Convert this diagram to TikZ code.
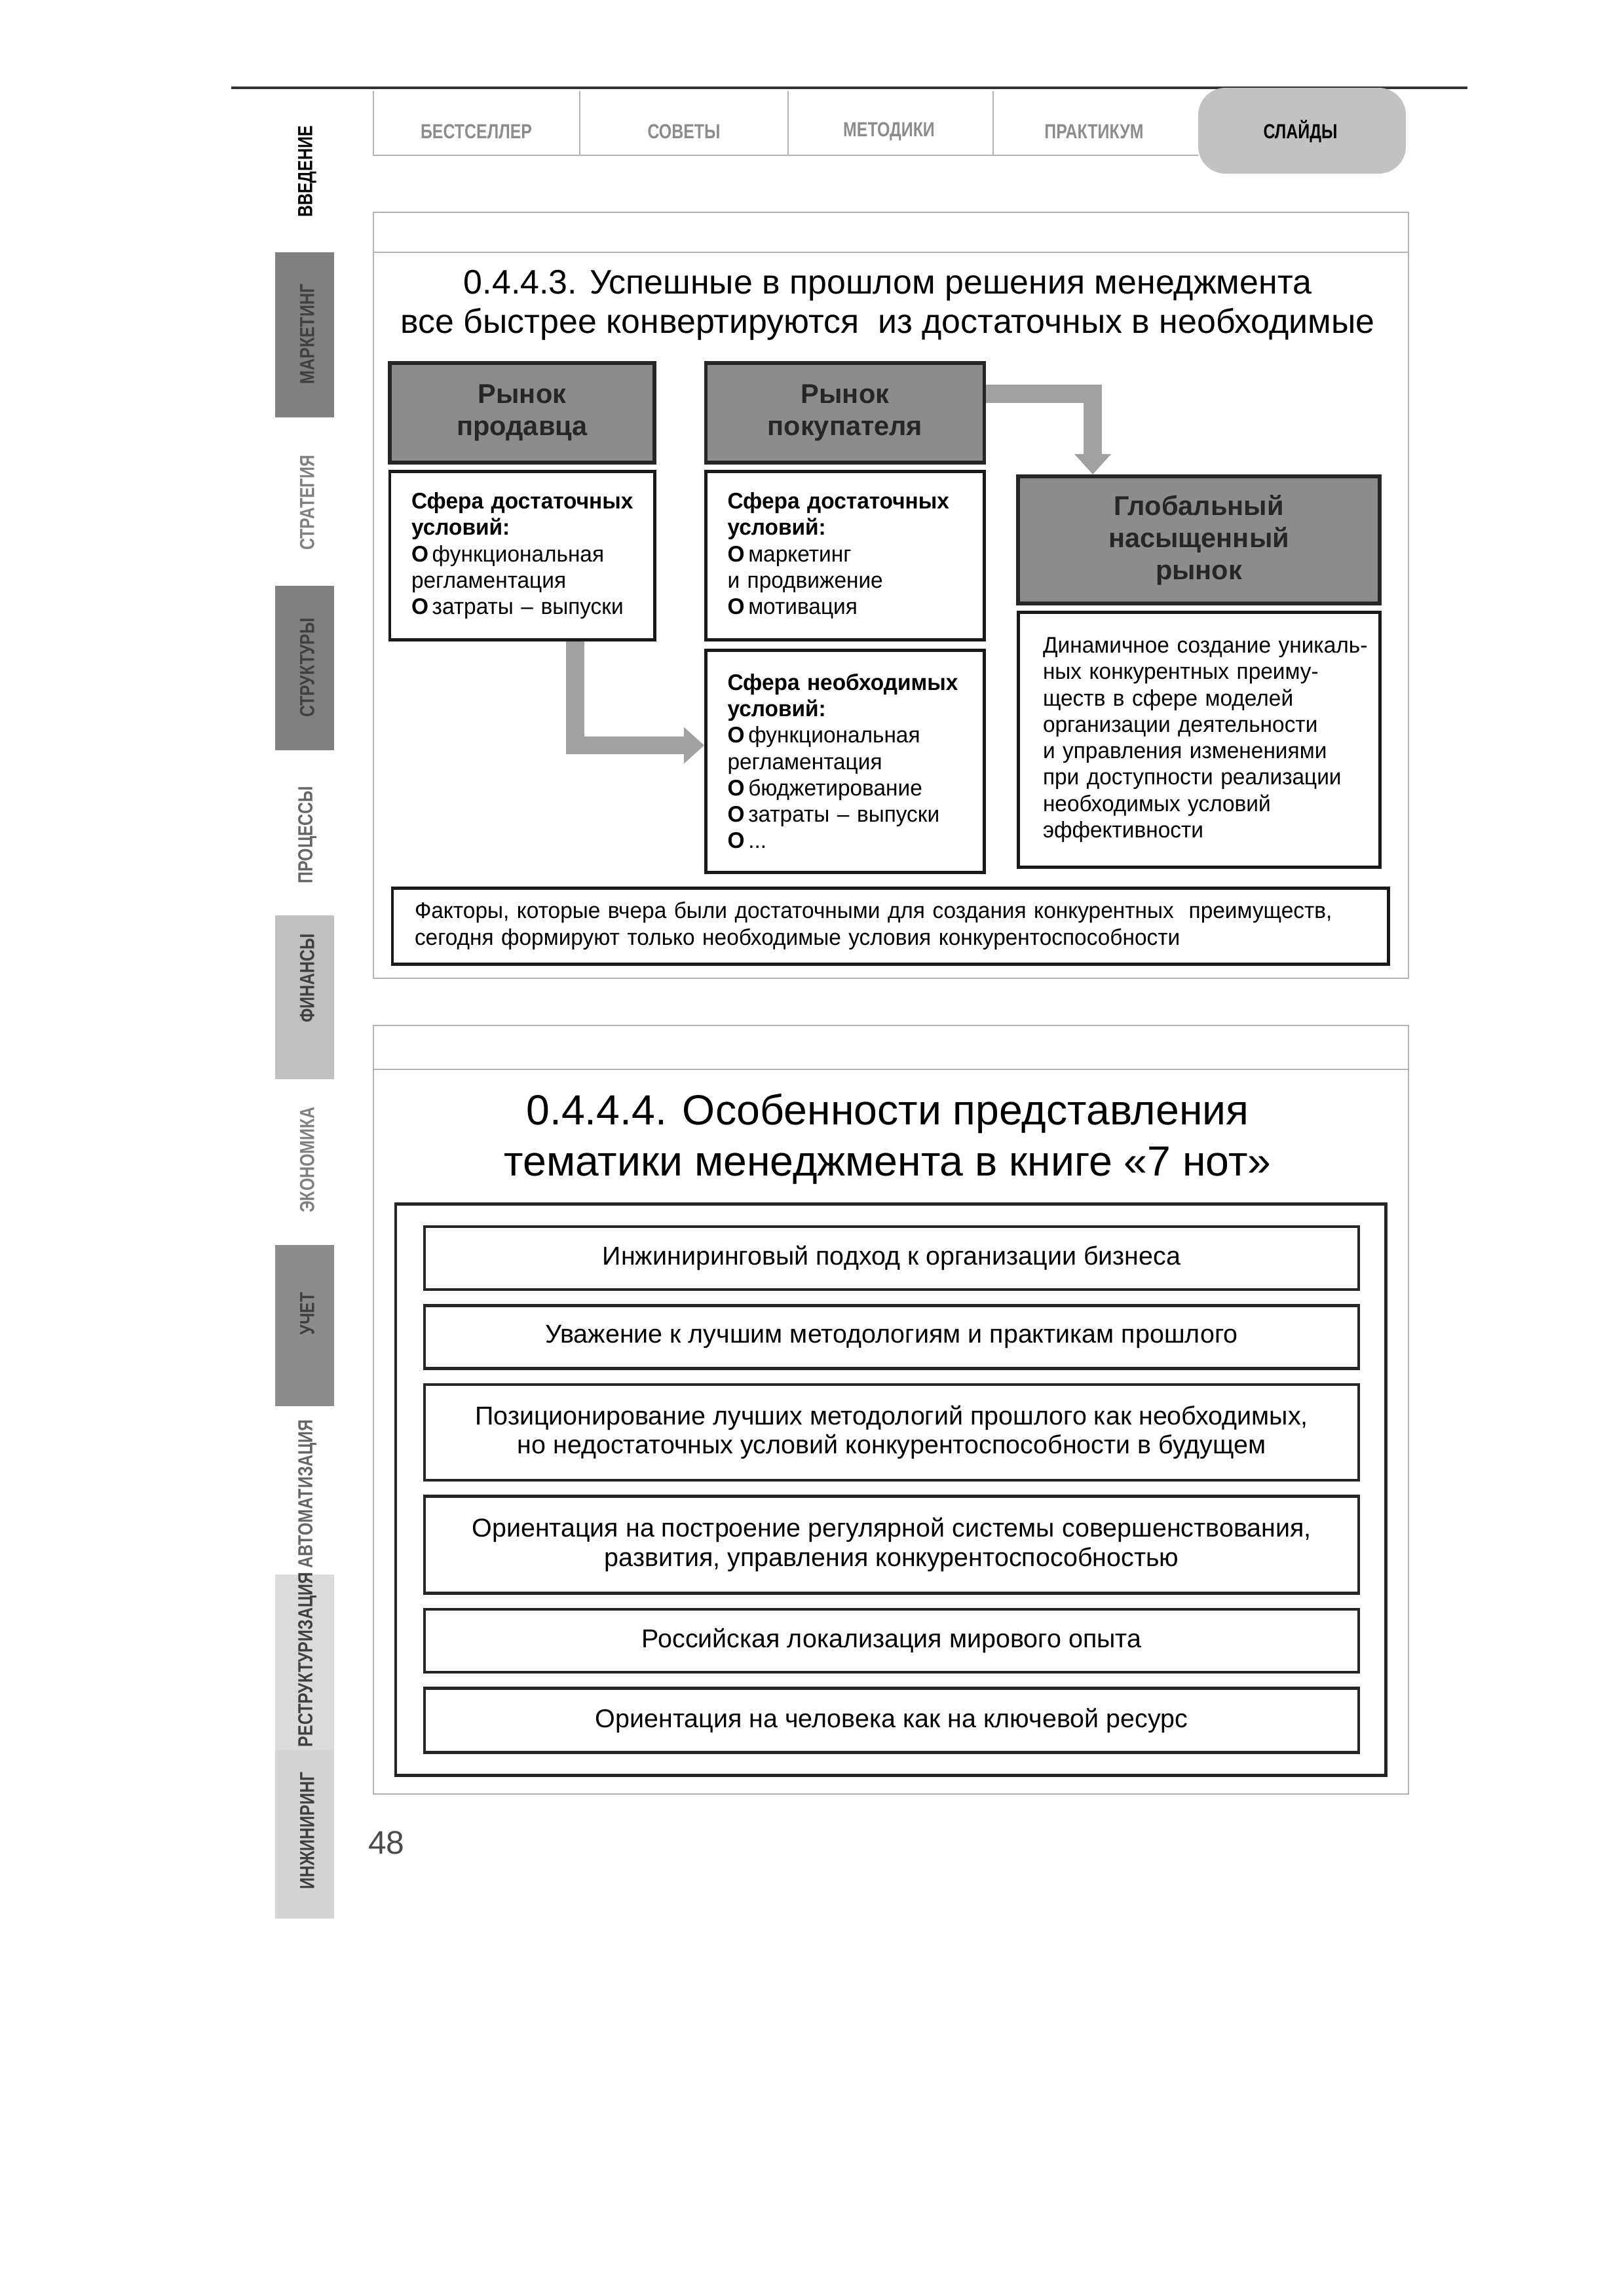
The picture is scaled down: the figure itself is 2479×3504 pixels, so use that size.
\documentclass[tikz,border=0pt]{standalone}
\usepackage{fontspec}
\setmainfont{Liberation Sans}
\newfontfamily\tabfont[FakeStretch=0.8]{Liberation Sans}
\newfontfamily\bodyfont[FakeStretch=0.97]{Liberation Sans}
\usetikzlibrary{arrows.meta,positioning}

\def\pxu{0.2409pt}
\newcommand\bul{\textbf{O}\,}

\begin{document}
\begin{tikzpicture}[x=0.2409pt,y=-0.2409pt,
  frame/.style={draw=black!30,line width=0.5pt},
  toptab/.style={font=\tabfont\bfseries\fontsize{7.5}{9}\selectfont,text=black!45},
  sidetab/.style={font=\tabfont\bfseries\fontsize{7.5}{9}\selectfont,rotate=90,text=black!75},
  title/.style={align=center,font=\fontsize{12.5}{14.5}\selectfont},
  hdr/.style={draw=black!85,line width=1.4pt,fill=black!45,align=center,
    font=\bfseries\fontsize{10}{11.8}\selectfont,text=black!85,inner sep=0pt},
  body/.style={draw=black!90,line width=1.2pt,fill=white,align=left,
    font=\bodyfont\fontsize{8.3}{9.7}\selectfont,inner sep=0pt},
  item/.style={draw=black!85,line width=1.1pt,minimum width=1426*\pxu,
    align=center,font=\fontsize{9.5}{10.8}\selectfont},
  blockarr/.style={draw=black!37,line width=6.7pt,
    -{Triangle[width=13pt,length=7.5pt]}}
]
\useasboundingbox (0,0) rectangle (2479,3504);

% header tabs
\draw[black!80,line width=1pt] (353,134) -- (2240,134);
\fill[black!24,rounded corners=10] (1829,134) rectangle (2146,265);
\draw[frame] (570,139) -- (570,237) -- (1829,237);
\draw[frame] (885,139) -- (885,237);
\draw[frame] (1203,139) -- (1203,237);
\draw[frame] (1516,139) -- (1516,237);
\node[toptab] (tbest) at (727,201) {БЕСТСЕЛЛЕР};
\node[toptab] (tsov) at (1044,201) {СОВЕТЫ};
\node[toptab] (tmet) at (1357,201) {МЕТОДИКИ};
\node[toptab] (tprak) at (1670,201) {ПРАКТИКУМ};
\node[toptab,text=black] (tslide) at (1985,201) {СЛАЙДЫ};

% side tabs
\fill[black!50] (420,385) rectangle (510,637);
\fill[black!50] (420,894) rectangle (510,1145);
\fill[black!25] (420,1397) rectangle (510,1647);
\fill[black!45] (420,1900) rectangle (510,2146);
\fill[black!14] (420,2403) rectangle (510,2671);
\fill[black!17] (420,2671) rectangle (510,2928);
\node[sidetab,text=black] (svved) at (469,262) {ВВЕДЕНИЕ};
\node[sidetab] (smark) at (469,510) {МАРКЕТИНГ};
\node[sidetab,text=black!50] (sstrat) at (469,767) {СТРАТЕГИЯ};
\node[sidetab] (sstruk) at (469,1019) {СТРУКТУРЫ};
\node[sidetab,text=black!60] (sproc) at (469,1274) {ПРОЦЕССЫ};
\node[sidetab] (sfin) at (469,1493) {ФИНАНСЫ};
\node[sidetab,text=black!50] (sekon) at (469,1770) {ЭКОНОМИКА};
\node[sidetab] (suchet) at (469,2005) {УЧЕТ};
\node[sidetab,text=black!60] (savto) at (469,2280) {АВТОМАТИЗАЦИЯ};
\node[sidetab] (srestr) at (469,2533) {РЕСТРУКТУРИЗАЦИЯ};
\node[sidetab] (sinzh) at (469,2794) {ИНЖИНИРИНГ};

% slide 0.4.4.3
\draw[frame] (570,324) rectangle (2150,1493);
\draw[frame] (570,385) -- (2150,385);
\node[title] (title1) at (1355,466)
  {0.4.4.3. Успешные в прошлом решения менеджмента\\
   все быстрее конвертируются \ из достаточных в необходимые};

\node[hdr,minimum width=404*\pxu,minimum height=152*\pxu] (hdrA) at (797,630)
  {Рынок\\продавца};
\node[hdr,minimum width=425*\pxu,minimum height=152*\pxu] (hdrB) at (1290,630)
  {Рынок\\покупателя};
\node[hdr,minimum width=552*\pxu,minimum height=194*\pxu] (hdrC) at (1830,824)
  {Глобальный\\насыщенный\\рынок};

\node[body,below=2pt of hdrA,minimum width=404*\pxu,minimum height=257*\pxu,
  text width=338*\pxu] (bodyA)
  {\textbf{Сфера~достаточных}\\\textbf{условий:}\\\bul функциональная\\
   регламентация\\\bul затраты~–~выпуски};
\node[body,below=2pt of hdrB,minimum width=425*\pxu,minimum height=257*\pxu,
  text width=359*\pxu] (bodyB1)
  {\textbf{Сфера~достаточных}\\\textbf{условий:}\\\bul маркетинг\\
   и продвижение\\\bul мотивация};
\node[body,below=2.5pt of bodyB1,minimum width=425*\pxu,minimum height=339*\pxu,
  text width=359*\pxu] (bodyB2)
  {\textbf{Сфера~необходимых}\\\textbf{условий:}\\\bul функциональная\\
   регламентация\\\bul бюджетирование\\\bul затраты~–~выпуски\\\bul ...};
\node[body,below=2pt of hdrC,minimum width=552*\pxu,minimum height=389*\pxu,
  text width=476*\pxu] (bodyC)
  {\mbox{Динамичное создание уникаль-}\\\mbox{ных конкурентных преиму-}\\
   ществ в сфере моделей\\организации~деятельности\\и~управления~изменениями\\
   при~доступности~реализации\\необходимых условий\\эффективности};

\draw[blockarr] ([yshift=7pt]hdrB.east) -| ([xshift=-39pt]hdrC.north);
\draw[blockarr] ([xshift=19.5pt]bodyA.south) |- ([yshift=5.8pt]bodyB2.west);

\node[body,minimum width=1520*\pxu,minimum height=116*\pxu,
  text width=1452*\pxu] (note) at (1359,1413)
  {Факторы, которые вчера были достаточными для создания конкурентных \ преимуществ,\\
   сегодня формируют только необходимые условия конкурентоспособности};

% slide 0.4.4.4
\draw[frame] (570,1565) rectangle (2150,2738);
\draw[frame] (570,1632) -- (2150,1632);
\node[title,font=\fontsize{15.5}{18.8}\selectfont] (title2) at (1355,1738)
  {0.4.4.4. Особенности представления\\тематики менеджмента в книге «7 нот»};

\node[draw=black!85,line width=1.2pt,minimum width=1511*\pxu,
  minimum height=872*\pxu] (list) at (1359.5,2273) {};
\node[item,minimum height=96*\pxu] (it1) at (1361,1920)
  {Инжиниринговый подход к организации бизнеса};
\node[item,minimum height=96*\pxu,below=4.8pt of it1] (it2)
  {Уважение к лучшим методологиям и практикам прошлого};
\node[item,minimum height=146*\pxu,below=4.8pt of it2] (it3)
  {Позиционирование лучших методологий прошлого как необходимых,\\
   но недостаточных условий конкурентоспособности в будущем};
\node[item,minimum height=148*\pxu,below=4.8pt of it3] (it4)
  {Ориентация на построение регулярной системы совершенствования,\\
   развития, управления конкурентоспособностью};
\node[item,minimum height=96*\pxu,below=4.8pt of it4] (it5)
  {Российская локализация мирового опыта};
\node[item,minimum height=98*\pxu,below=4.8pt of it5] (it6)
  {Ориентация на человека как на ключевой ресурс};

\node[font=\fontsize{12}{14}\selectfont,text=black!70] (pagenum) at (590,2812) {48};
\end{tikzpicture}
\end{document}
